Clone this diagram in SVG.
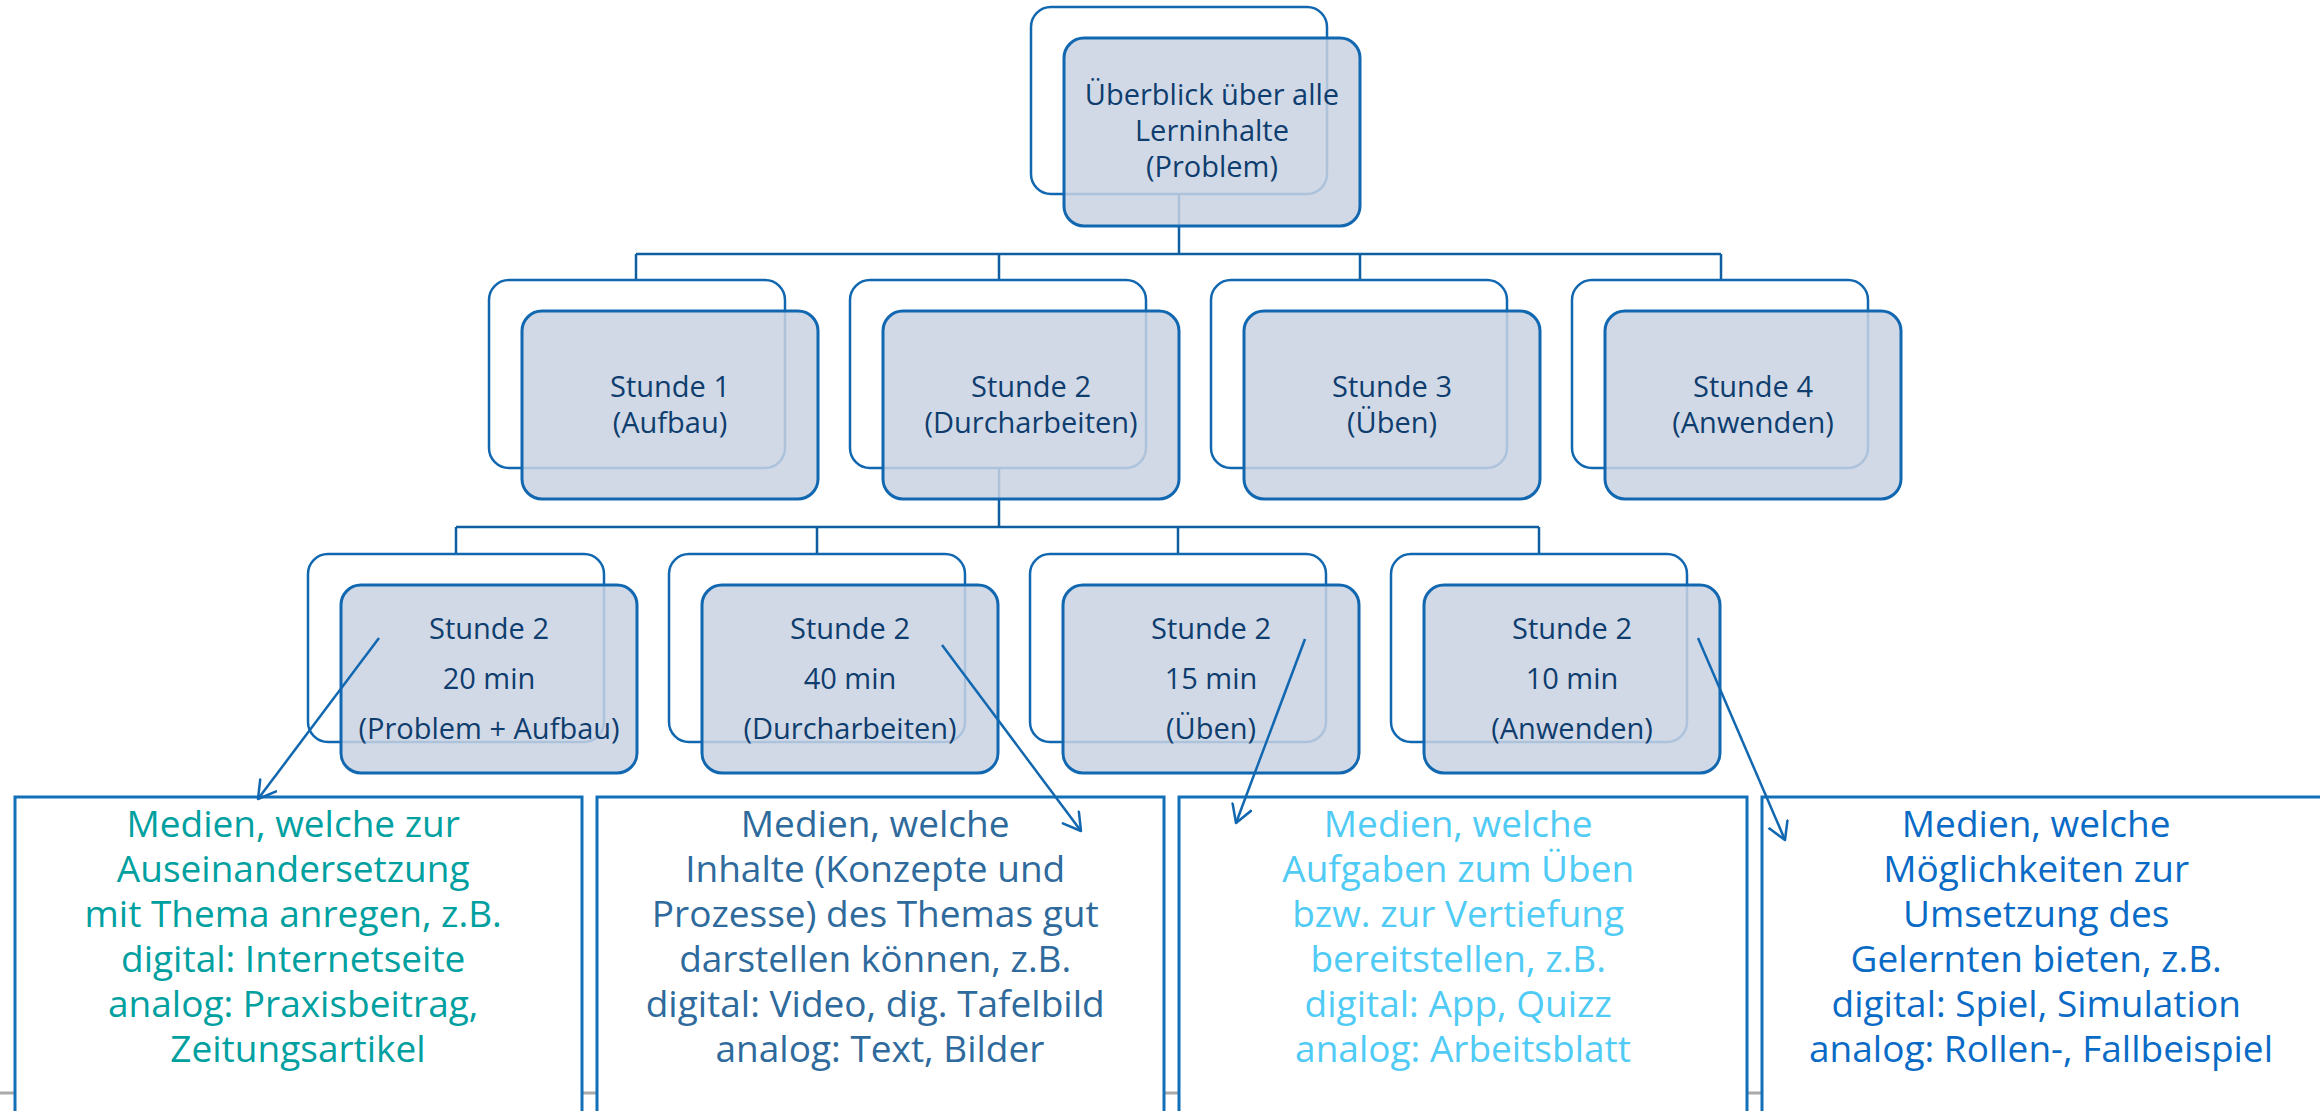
<svg xmlns="http://www.w3.org/2000/svg" width="2320" height="1111" viewBox="0 0 2320 1111">
<style>
.back{fill:#ffffff;stroke:#1268b0;stroke-width:2.5}
.front{fill:#c9d2e3;fill-opacity:0.85;stroke:#1268b0;stroke-width:3}
.nt{font-family:"Open Sans","Noto Sans","Liberation Sans",sans-serif;font-size:29px;fill:#0e3d6e;text-anchor:middle}
.conn{stroke:#0f5fa0;stroke-width:2.5;fill:none}
.arrow{stroke:#1268b0;stroke-width:2.5;fill:none;marker-end:url(#ah)}
.box{fill:#ffffff;stroke:#1270b8;stroke-width:3}
.bt{font-family:"Open Sans","Noto Sans","Liberation Sans",sans-serif;font-size:37px;text-anchor:middle}
</style>
<defs>
<marker id="ah" markerUnits="userSpaceOnUse" markerWidth="22" markerHeight="24" refX="18" refY="11" orient="auto">
<path d="M1,1 L18,11 L1,21" fill="none" stroke="#1268b0" stroke-width="2.5" stroke-linecap="round" stroke-linejoin="round"/>
</marker>
</defs>
<rect x="0" y="0" width="2320" height="1111" fill="#ffffff"/>
<line x1="0" y1="1093" x2="2320" y2="1093" stroke="#aaaaaa" stroke-width="3"/>

<g id="connectors">
<path class="conn" d="M1179,194 V254 M636,254 H1721 M636,254 V280 M999,254 V280 M1360,254 V280 M1721,254 V280"/>
<path class="conn" d="M999,468 V527 M456,527 H1539 M456,527 V554 M817,527 V554 M1178,527 V554 M1539,527 V554"/>
</g>

<g id="root">
<rect class="back" x="1031" y="7" width="296" height="187" rx="20"/>
<rect class="front" x="1064" y="38" width="296" height="188" rx="20"/>
<text class="nt" x="1212" y="105">Überblick über alle</text>
<text class="nt" x="1212" y="141">Lerninhalte</text>
<text class="nt" x="1212" y="177">(Problem)</text>
</g>

<g id="stunde1">
<rect class="back" x="489" y="280" width="296" height="188" rx="20"/>
<rect class="front" x="522" y="311" width="296" height="188" rx="20"/>
<text class="nt" x="670" y="397">Stunde 1</text>
<text class="nt" x="670" y="433">(Aufbau)</text>
</g>
<g id="stunde2">
<rect class="back" x="850" y="280" width="296" height="188" rx="20"/>
<rect class="front" x="883" y="311" width="296" height="188" rx="20"/>
<text class="nt" x="1031" y="397">Stunde 2</text>
<text class="nt" x="1031" y="433">(Durcharbeiten)</text>
</g>
<g id="stunde3">
<rect class="back" x="1211" y="280" width="296" height="188" rx="20"/>
<rect class="front" x="1244" y="311" width="296" height="188" rx="20"/>
<text class="nt" x="1392" y="397">Stunde 3</text>
<text class="nt" x="1392" y="433">(Üben)</text>
</g>
<g id="stunde4">
<rect class="back" x="1572" y="280" width="296" height="188" rx="20"/>
<rect class="front" x="1605" y="311" width="296" height="188" rx="20"/>
<text class="nt" x="1753" y="397">Stunde 4</text>
<text class="nt" x="1753" y="433">(Anwenden)</text>
</g>

<g id="phase1">
<rect class="back" x="308" y="554" width="296" height="188" rx="20"/>
<rect class="front" x="341" y="585" width="296" height="188" rx="20"/>
<text class="nt" x="489" y="639">Stunde 2</text>
<text class="nt" x="489" y="689">20 min</text>
<text class="nt" x="489" y="739">(Problem + Aufbau)</text>
</g>
<g id="phase2">
<rect class="back" x="669" y="554" width="296" height="188" rx="20"/>
<rect class="front" x="702" y="585" width="296" height="188" rx="20"/>
<text class="nt" x="850" y="639">Stunde 2</text>
<text class="nt" x="850" y="689">40 min</text>
<text class="nt" x="850" y="739">(Durcharbeiten)</text>
</g>
<g id="phase3">
<rect class="back" x="1030" y="554" width="296" height="188" rx="20"/>
<rect class="front" x="1063" y="585" width="296" height="188" rx="20"/>
<text class="nt" x="1211" y="639">Stunde 2</text>
<text class="nt" x="1211" y="689">15 min</text>
<text class="nt" x="1211" y="739">(Üben)</text>
</g>
<g id="phase4">
<rect class="back" x="1391" y="554" width="296" height="188" rx="20"/>
<rect class="front" x="1424" y="585" width="296" height="188" rx="20"/>
<text class="nt" x="1572" y="639">Stunde 2</text>
<text class="nt" x="1572" y="689">10 min</text>
<text class="nt" x="1572" y="739">(Anwenden)</text>
</g>

<g id="media1">
<rect class="box" x="15" y="797" width="567" height="340"/>
<text class="bt" fill="#00a0a0">
<tspan x="298" y="837">Medien, welche zur</tspan>
<tspan x="298" y="882">Auseinandersetzung</tspan>
<tspan x="298" y="927">mit Thema anregen, z.B.</tspan>
<tspan x="298" y="972">digital: Internetseite</tspan>
<tspan x="298" y="1017">analog: Praxisbeitrag,</tspan>
<tspan x="298" y="1062">Zeitungsartikel</tspan>
</text>
</g>
<g id="media2">
<rect class="box" x="597" y="797" width="567" height="340"/>
<text class="bt" fill="#2e6a9c">
<tspan x="880" y="837">Medien, welche</tspan>
<tspan x="880" y="882">Inhalte (Konzepte und</tspan>
<tspan x="880" y="927">Prozesse) des Themas gut</tspan>
<tspan x="880" y="972">darstellen können, z.B.</tspan>
<tspan x="880" y="1017">digital: Video, dig. Tafelbild</tspan>
<tspan x="880" y="1062">analog: Text, Bilder</tspan>
</text>
</g>
<g id="media3">
<rect class="box" x="1179" y="797" width="568" height="340"/>
<text class="bt" fill="#4fcbf5">
<tspan x="1463" y="837">Medien, welche</tspan>
<tspan x="1463" y="882">Aufgaben zum Üben</tspan>
<tspan x="1463" y="927">bzw. zur Vertiefung</tspan>
<tspan x="1463" y="972">bereitstellen, z.B.</tspan>
<tspan x="1463" y="1017">digital: App, Quizz</tspan>
<tspan x="1463" y="1062">analog: Arbeitsblatt</tspan>
</text>
</g>
<g id="media4">
<rect class="box" x="1762" y="797" width="580" height="340"/>
<text class="bt" fill="#0a6bc6">
<tspan x="2041" y="837">Medien, welche</tspan>
<tspan x="2041" y="882">Möglichkeiten zur</tspan>
<tspan x="2041" y="927">Umsetzung des</tspan>
<tspan x="2041" y="972">Gelernten bieten, z.B.</tspan>
<tspan x="2041" y="1017">digital: Spiel, Simulation</tspan>
<tspan x="2041" y="1062">analog: Rollen-, Fallbeispiel</tspan>
</text>
</g>

<g id="arrows">
<line class="arrow" x1="379" y1="638" x2="258" y2="799"/>
<line class="arrow" x1="942" y1="645" x2="1081" y2="831"/>
<line class="arrow" x1="1305" y1="639" x2="1236" y2="823"/>
<line class="arrow" x1="1698" y1="638" x2="1785" y2="840"/>
</g>
</svg>
